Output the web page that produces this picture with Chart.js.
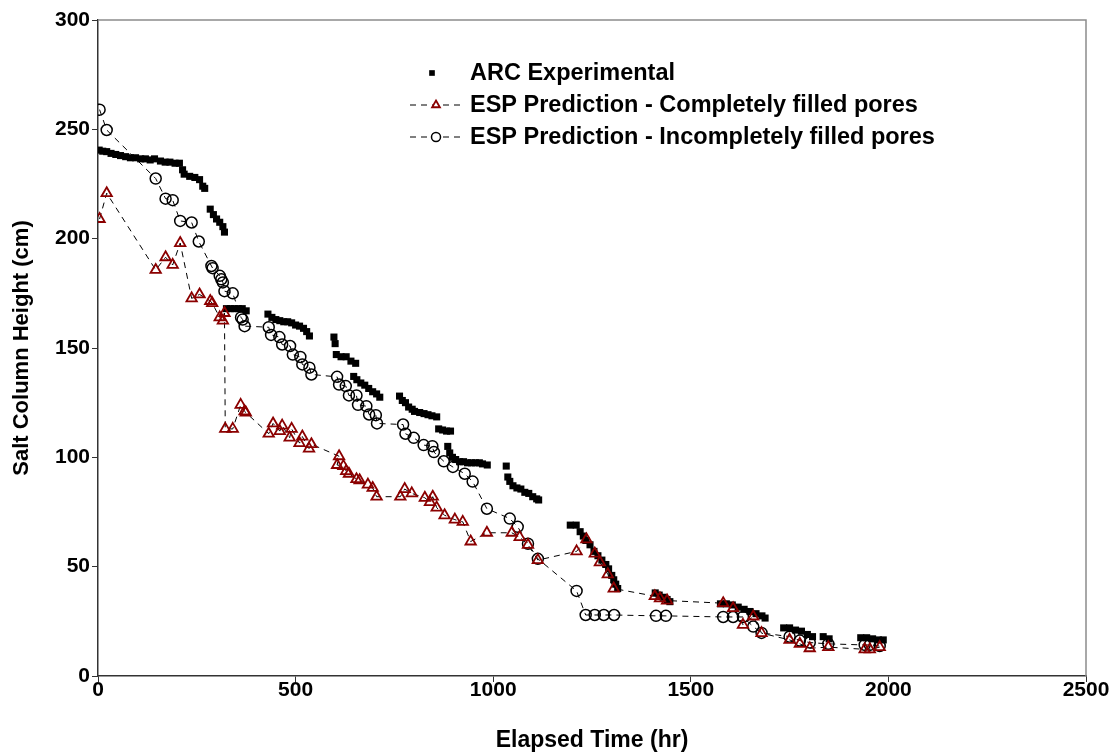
<!DOCTYPE html>
<html>
<head>
<meta charset="utf-8">
<script src="https://cdn.jsdelivr.net/npm/chart.js@4"></script>
<style>
  html, body { margin: 0; padding: 0; background: #fff; }
  #wrap { width: 1110px; height: 755px; }
</style>
</head>
<body>
<div id="wrap"><canvas id="saltChart"></canvas></div>
<script>
// ARC experimental measurements
const arcTime = [3, 12, 22, 33, 45, 57, 70, 82, 95, 108, 120, 132, 143, 158, 170, 182, 195, 206,
  214, 218, 232, 245, 257, 265, 270, 284, 292, 300, 308, 316, 320,
  325, 335, 345, 355, 365, 375,
  430, 440, 450, 460, 470, 480, 490, 500, 510, 520, 528, 535,
  597, 600, 603, 615, 628, 640, 652, 647, 655, 665, 675, 685, 695, 705, 713,
  763, 770, 778, 786, 795, 801, 814, 825, 835, 845, 857, 862, 872, 882, 892, 885, 890,
  897, 905, 915, 925, 935, 945, 955, 965, 973, 985, 1033,
  1037, 1042, 1050, 1060, 1070, 1080, 1090, 1100, 1110, 1115,
  1195, 1210, 1220, 1228, 1235, 1245, 1255, 1265, 1275, 1285, 1292, 1300, 1305, 1310, 1315,
  1410, 1420, 1430, 1440, 1447,
  1575, 1590, 1605, 1620, 1635, 1650, 1665, 1680, 1688,
  1735, 1750, 1765, 1780, 1795, 1808, 1835, 1850,
  1930, 1945, 1960, 1975, 1987];
const arcHeight = [240.5, 240, 239.8, 239, 238.5, 238, 237.5, 237, 237, 236.5, 236.5, 236, 236.5, 235.5, 235, 235, 234.5, 234.5,
  231.5, 229.5, 228.5, 228, 227, 224, 223, 213.5, 211, 209, 207.5, 205.5, 203,
  168, 168, 168, 168, 168, 167,
  165.5, 164, 163, 162.5, 162, 162, 161.5, 160.5, 160, 159, 157.5, 155.5,
  155, 152, 147, 146, 146, 144, 143, 137, 135.5, 134, 133, 131.5, 130, 129, 127.5,
  128, 126, 125, 123, 122, 121, 120.5, 120, 119.5, 119, 118.5, 113, 112.5, 112, 112, 105, 102,
  100, 99, 98, 98, 97.5, 97.5, 97.5, 97.5, 97, 96.5, 96,
  91, 89, 87, 86, 85.5, 84, 83.5, 82, 81, 80.5,
  69, 69, 66, 64, 62, 60, 57, 55, 53, 51, 49, 46, 44, 42, 40,
  38, 37, 36, 35, 34,
  33, 33, 32.5, 31.5, 30.5, 29.5, 28.5, 27.5, 26.5,
  22, 22, 21, 20.5, 19, 18, 18, 17,
  17.5, 17.5, 17, 16.5, 16.5];

// ESP prediction - completely filled pores
const fullTime = [4, 22, 146, 171, 189, 208, 237, 257, 284, 289, 308, 316, 320, 322, 341, 361, 371, 374,
  432, 443, 460, 466, 485, 490, 510, 517, 534, 540, 610, 605, 621, 628, 635, 654, 662, 683, 695, 705,
  765, 776, 794, 827, 840, 847, 857, 877, 903, 923, 943, 984, 1047, 1067, 1088, 1113,
  1211, 1236, 1257, 1270, 1290, 1305, 1409, 1422, 1440,
  1582, 1607, 1632, 1658, 1679, 1750, 1776, 1801, 1848, 1940, 1953, 1978];
const fullHeight = [209, 220.8, 185.7, 191.5, 188, 198, 172.7, 174.5, 171.5, 170.5, 164, 162.5, 166, 113, 113, 124, 121, 120.5,
  110.8, 115.5, 112, 114.5, 109, 113, 106.5, 109.5, 104, 106, 100.5, 96.5, 96, 93.7, 92.5, 90, 89.5, 87.5, 86, 82,
  82, 85.5, 83.5, 81.5, 79.5, 82, 77, 73.5, 71.5, 70.5, 61.5, 65.5, 65.5, 63.5, 60, 53,
  57, 62.5, 56, 52, 46.5, 40, 36.5, 35.5, 34.5,
  33.3, 31, 23.4, 27.2, 19.6, 16.5, 14.7, 12.7, 13.2, 12.2, 12.2, 13.2];

// ESP prediction - incompletely filled pores
const partTime = [4, 22, 146, 171, 189, 208, 237, 255, 287, 290, 308, 312, 316, 320, 341, 362, 366, 371,
  432, 438, 459, 466, 486, 493, 512, 517, 535, 540,
  605, 610, 627, 635, 654, 658, 679, 686, 703, 706,
  772, 778, 799, 824, 846, 850, 875, 898, 928, 948, 984, 1042, 1062, 1088, 1113,
  1211, 1234, 1257, 1280, 1306, 1412, 1437,
  1582, 1607, 1632, 1658, 1679, 1750, 1776, 1801, 1848, 1940, 1953, 1978];
const partHeight = [259, 249.7, 227.5, 218.3, 217.6, 208.1, 207.4, 198.7, 187.5, 186.5, 183, 181.4, 180, 176, 175, 164, 163, 160,
  159.5, 156, 155, 151.6, 150.9, 147, 145.9, 142.5, 141, 137.9,
  136.8, 133.3, 132.6, 128.3, 128.3, 124, 123.4, 119.6, 119.3, 115.5,
  115, 110.8, 108.9, 105.6, 105.1, 102.4, 98.2, 95.6, 92.5, 88.9, 76.5, 72, 68.2, 60.5, 53.6,
  38.9, 27.9, 27.9, 27.9, 27.9, 27.5, 27.5,
  27, 27, 27, 22.6, 19.7, 18, 16.2, 15.3, 14.7, 14.2, 14.2, 13.7];

const xTicks = [0, 500, 1000, 1500, 2000, 2500];
const yTicks = [0, 50, 100, 150, 200, 250, 300];

const FONT = "'Liberation Sans', Arial, sans-serif";
const RED = '#8b0000';

const pairs = (xs, ys) => xs.map((x, i) => ({ x: x, y: ys[i] }));

// plot frame: gray top/right edges
const framePlugin = {
    id: 'frame',
    beforeDatasetsDraw(chart) {
        const { ctx, chartArea: a } = chart;
        ctx.save();
        ctx.strokeStyle = '#8c8c8c';
        ctx.lineWidth = 1.5;
        ctx.beginPath();
        ctx.moveTo(a.left, a.top);
        ctx.lineTo(a.right, a.top);
        ctx.lineTo(a.right, a.bottom);
        ctx.stroke();
        ctx.restore();
    },
};

// legend drawn inside the plot
const legendPlugin = {
    id: 'insideLegend',
    afterDraw(chart) {
        const ctx = chart.ctx;
        const rows = [
            { ds: chart.data.datasets[0], y: 73, line: false },
            { ds: chart.data.datasets[1], y: 105, line: true },
            { ds: chart.data.datasets[2], y: 137, line: true },
        ];
        ctx.save();
        rows.forEach(r => {
            const ds = r.ds;
            if (r.line) {
                ctx.strokeStyle = '#000';
                ctx.lineWidth = 1;
                ctx.setLineDash([6, 5]);
                ctx.beginPath();
                ctx.moveTo(410, r.y);
                ctx.lineTo(463, r.y);
                ctx.stroke();
                ctx.setLineDash([]);
            }
            ctx.fillStyle = r.line ? '#fff' : ds.pointBackgroundColor;
            ctx.strokeStyle = ds.pointBorderColor;
            ctx.lineWidth = ds.pointBorderWidth;
            Chart.helpers.drawPoint(ctx, {
                pointStyle: ds.pointStyle,
                radius: r.line ? 4.5 : 4,
                rotation: 0,
                borderWidth: ds.pointBorderWidth,
            }, r.line ? 436 : 432, r.y);
            ctx.fillStyle = '#000';
            ctx.font = 'bold 23.5px ' + FONT;
            ctx.textBaseline = 'middle';
            ctx.textAlign = 'left';
            ctx.fillText(ds.label, 470, r.y + 1);
        });
        ctx.restore();
    },
};

const tickFont = { family: FONT, size: 21, weight: 'bold' };
const xTitleFont = { family: FONT, size: 23, weight: 'bold' };
const yTitleFont = { family: FONT, size: 22, weight: 'bold' };
const plainLabel = v => String(v);

new Chart(document.getElementById('saltChart'), {
    type: 'scatter',
    data: {
        datasets: [
            {
                label: 'ARC Experimental',
                data: pairs(arcTime, arcHeight),
                showLine: false,
                pointStyle: 'rect',
                pointRadius: 5,
                pointBackgroundColor: '#000',
                pointBorderColor: '#000',
                pointBorderWidth: 0,
                order: 3,
            },
            {
                label: 'ESP Prediction - Completely filled pores',
                data: pairs(fullTime, fullHeight),
                showLine: true,
                borderColor: '#000',
                borderWidth: 1,
                borderDash: [6, 5],
                pointStyle: 'triangle',
                pointRadius: 6,
                pointBackgroundColor: 'rgba(255,255,255,0)',
                pointBorderColor: RED,
                pointBorderWidth: 1.8,
                order: 1,
            },
            {
                label: 'ESP Prediction - Incompletely filled pores',
                data: pairs(partTime, partHeight),
                showLine: true,
                borderColor: '#000',
                borderWidth: 1,
                borderDash: [6, 5],
                pointStyle: 'circle',
                pointRadius: 5.5,
                pointBackgroundColor: 'rgba(255,255,255,0)',
                pointBorderColor: '#000',
                pointBorderWidth: 1.5,
                order: 2,
            },
        ],
    },
    options: {
        responsive: true,
        maintainAspectRatio: false,
        animation: false,
        layout: { padding: { top: 20, right: 24, left: 0, bottom: 0 } },
        plugins: {
            legend: { display: false },
            tooltip: { enabled: false },
        },
        scales: {
            x: {
                type: 'linear',
                min: 0,
                max: 2500,
                afterBuildTicks: s => { s.ticks = xTicks.map(v => ({ value: v })); },
                afterFit: s => { s.height = 79; },
                ticks: { font: tickFont, color: '#000', padding: -4, maxRotation: 0, callback: plainLabel },
                grid: { drawOnChartArea: false, tickLength: 6, color: '#333', lineWidth: 1 },
                border: { color: '#333', width: 1.5 },
                title: {
                    display: true,
                    text: 'Elapsed Time (hr)',
                    font: xTitleFont,
                    color: '#000',
                    padding: { top: 4, bottom: 1 },
                },
            },
            y: {
                type: 'linear',
                min: 0,
                max: 300,
                afterBuildTicks: s => { s.ticks = yTicks.map(v => ({ value: v })); },
                afterFit: s => { s.width = 98; },
                ticks: { font: tickFont, color: '#000', padding: 2, callback: plainLabel },
                grid: { drawOnChartArea: false, tickLength: 6, color: '#333', lineWidth: 1 },
                border: { color: '#333', width: 1.5 },
                title: {
                    display: true,
                    text: 'Salt Column Height (cm)',
                    font: yTitleFont,
                    color: '#000',
                    padding: { top: 9, bottom: 0 },
                },
            },
        },
    },
    plugins: [framePlugin, legendPlugin],
});
</script>
</body>
</html>
